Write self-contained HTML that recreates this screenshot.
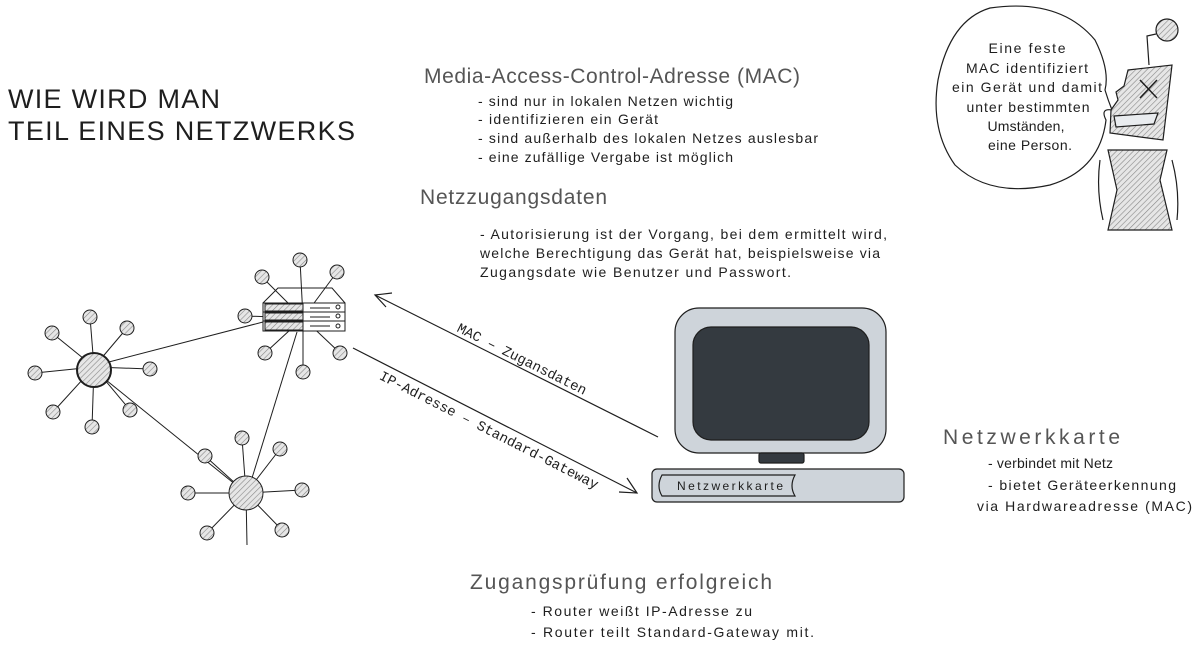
<!DOCTYPE html>
<html><head><meta charset="utf-8"><style>
html,body{margin:0;padding:0;background:#fff;}
svg{display:block}
text{font-family:"Liberation Sans",sans-serif;fill:#1e1e1e}
.h{fill:#555;font-size:21px}
.b{font-size:14px}
.m{font-family:"Liberation Mono",monospace;font-size:14px}
</style></head><body>
<svg width="1200" height="648" viewBox="0 0 1200 648" xmlns="http://www.w3.org/2000/svg">
<defs>
<pattern id="hat" width="4" height="4" patternUnits="userSpaceOnUse" patternTransform="rotate(45)">
<rect width="4" height="4" fill="#e6e6e6"/><line x1="0" y1="0" x2="0" y2="4" stroke="#888" stroke-width="1.2"/>
</pattern>
</defs>

<text x="8" y="108" font-size="27" textLength="212">WIE WIRD MAN</text>
<text x="8" y="140" font-size="27" textLength="347">TEIL EINES NETZWERKS</text>

<text class="h" x="424" y="83" textLength="376">Media-Access-Control-Adresse (MAC)</text>
<text class="b" x="478" y="106" textLength="255">- sind nur in lokalen Netzen wichtig</text>
<text class="b" x="478" y="124" textLength="180">- identifizieren ein Gerät</text>
<text class="b" x="478" y="143" textLength="340">- sind außerhalb des lokalen Netzes auslesbar</text>
<text class="b" x="478" y="162" textLength="255">- eine zufällige Vergabe ist möglich</text>

<text class="h" x="420" y="204" textLength="187">Netzzugangsdaten</text>
<text class="b" x="480" y="239" textLength="407">- Autorisierung ist der Vorgang, bei dem ermittelt wird,</text>
<text class="b" x="480" y="258" textLength="400">welche Berechtigung das Gerät hat, beispielsweise via</text>
<text class="b" x="480" y="277" textLength="311">Zugangsdate wie Benutzer und Passwort.</text>

<text class="h" x="943" y="444" textLength="177">Netzwerkkarte</text>
<text class="b" x="988" y="468" textLength="125">- verbindet mit Netz</text>
<text class="b" x="988" y="490" textLength="188">- bietet Geräteerkennung</text>
<text class="b" x="977" y="511" textLength="215">via Hardwareadresse (MAC)</text>

<text class="h" x="470" y="589" textLength="302">Zugangsprüfung erfolgreich</text>
<text class="b" x="531" y="616" textLength="221">- Router weißt IP-Adresse zu</text>
<text class="b" x="531" y="637" textLength="283">- Router teilt Standard-Gateway mit.</text>

<!-- network -->
<g stroke="#1e1e1e" stroke-width="1">
<line x1="105" y1="363" x2="263" y2="322"/>
<line x1="106" y1="380" x2="236" y2="485"/>
<line x1="297" y1="332" x2="252" y2="478"/>
<line x1="94" y1="367" x2="90" y2="317"/><line x1="94" y1="367" x2="52" y2="333"/>
<line x1="94" y1="367" x2="127" y2="328"/><line x1="94" y1="367" x2="35" y2="373"/>
<line x1="94" y1="367" x2="150" y2="369"/><line x1="94" y1="367" x2="53" y2="412"/>
<line x1="94" y1="367" x2="92" y2="427"/><line x1="94" y1="367" x2="130" y2="410"/>
<line x1="303" y1="318" x2="300" y2="260"/><line x1="303" y1="318" x2="337" y2="272"/>
<line x1="303" y1="318" x2="262" y2="277"/><line x1="303" y1="318" x2="245" y2="316"/>
<line x1="303" y1="318" x2="265" y2="353"/><line x1="303" y1="318" x2="303" y2="372"/>
<line x1="303" y1="318" x2="340" y2="353"/>
<line x1="246" y1="493" x2="242" y2="438"/><line x1="246" y1="493" x2="280" y2="449"/>
<line x1="246" y1="493" x2="205" y2="456"/><line x1="246" y1="493" x2="188" y2="493"/>
<line x1="246" y1="493" x2="302" y2="490"/><line x1="246" y1="493" x2="207" y2="533"/>
<line x1="246" y1="493" x2="282" y2="530"/><line x1="246" y1="493" x2="247" y2="545"/>
</g>
<g fill="url(#hat)" stroke="#1e1e1e" stroke-width="1">
<circle cx="90" cy="317" r="7"/><circle cx="52" cy="333" r="7"/><circle cx="127" cy="328" r="7"/>
<circle cx="35" cy="373" r="7"/><circle cx="150" cy="369" r="7"/><circle cx="53" cy="412" r="7"/>
<circle cx="92" cy="427" r="7"/><circle cx="130" cy="410" r="7"/>
<circle cx="300" cy="260" r="7"/><circle cx="337" cy="272" r="7"/><circle cx="262" cy="277" r="7"/>
<circle cx="245" cy="316" r="7"/><circle cx="265" cy="353" r="7"/><circle cx="303" cy="372" r="7"/>
<circle cx="340" cy="353" r="7"/>
<circle cx="242" cy="438" r="7"/><circle cx="280" cy="449" r="7"/><circle cx="205" cy="456" r="7"/>
<circle cx="188" cy="493" r="7"/><circle cx="302" cy="490" r="7"/><circle cx="207" cy="533" r="7"/>
<circle cx="282" cy="530" r="7"/>
<circle cx="94" cy="370" r="17" stroke-width="2"/>
<circle cx="246" cy="493" r="17"/>
</g>
<!-- server -->
<g stroke="#1e1e1e" stroke-width="1" fill="#fff">
<path d="M263 303 L278 288 L332 288 L345 303" fill="none"/>
<rect x="263" y="303" width="82" height="9"/>
<rect x="263" y="312" width="82" height="9"/>
<rect x="263" y="321" width="82" height="10"/>
<rect x="265" y="304" width="38" height="7" fill="url(#hat)"/>
<rect x="265" y="313" width="38" height="7" fill="url(#hat)"/>
<rect x="265" y="322" width="38" height="8" fill="url(#hat)"/>
<line x1="310" y1="308" x2="330" y2="308"/><line x1="310" y1="317" x2="330" y2="317"/><line x1="310" y1="326" x2="330" y2="326"/>
<circle cx="338" cy="307" r="2"/><circle cx="338" cy="316" r="2"/><circle cx="338" cy="326" r="2"/>
</g>

<!-- arrows -->
<g stroke="#1e1e1e" stroke-width="1.2" fill="none">
<line x1="658" y1="437" x2="375" y2="295"/>
<path d="M392 293 L375 295 L386 307"/>
<line x1="353" y1="348" x2="637" y2="493"/>
<path d="M619 492 L637 493 L627 478"/>
</g>
<text class="m" transform="translate(520,363) rotate(26.6)" text-anchor="middle">MAC – Zugansdaten</text>
<text class="m" transform="translate(487,434) rotate(27)" text-anchor="middle">IP-Adresse – Standard-Gateway</text>

<!-- computer -->
<g stroke="#1e1e1e" stroke-width="1.2">
<rect x="675" y="308" width="211" height="145" rx="24" fill="#ced4da"/>
<rect x="693" y="327" width="176" height="113" rx="18" fill="#343a40"/>
<rect x="759" y="453" width="45" height="10" rx="2" fill="#343a40"/>
<rect x="652" y="469" width="252" height="33" rx="5" fill="#ced4da"/>
<path d="M662 475 L795 475 Q789 486 795 496 L662 496 Q656 486 662 475Z" fill="#ced4da"/>
</g>
<text x="677" y="490" font-size="12" fill="#444" textLength="106">Netzwerkkarte</text>

<!-- speech bubble & figure -->
<path d="M990 8 Q1060 -2 1095 40 Q1110 70 1105 90 Q1108 100 1112 110 Q1100 108 1106 120 Q1100 170 1050 185 Q990 198 955 165 Q930 130 938 80 Q950 20 990 8Z" fill="#fff" stroke="#1e1e1e" stroke-width="1.2"/>
<g font-size="14" text-anchor="middle">
<text x="1027" y="53" textLength="77">Eine feste</text>
<text x="1027" y="73" textLength="122">MAC identifiziert</text>
<text x="1027" y="92" textLength="150">ein Gerät und damit</text>
<text x="1028" y="112" textLength="123">unter bestimmten</text>
<text x="1026" y="131" textLength="77">Umständen,</text>
<text x="1030" y="150" textLength="84">eine Person.</text>
</g>
<g stroke="#1e1e1e" stroke-width="1.2">
<circle cx="1167" cy="30" r="11" fill="url(#hat)"/>
<path d="M1156 34 L1147 36 L1149 65" fill="none"/>
<path d="M1128 70 L1172 65 L1163 140 L1110 133 L1111 110 L1118 100 L1116 92 L1124 86 Z" fill="url(#hat)"/>
<path d="M1114 116 L1158 113 L1154 124 L1116 127Z" fill="#e9ecef"/>
<path d="M1140 80 L1157 98 M1157 80 L1140 98" fill="none" stroke-width="1.5"/>
<path d="M1108 150 L1167 150 L1160 180 L1172 230 L1108 230 L1117 190 Z" fill="url(#hat)"/>
<path d="M1100 160 Q1096 190 1103 220 M1172 160 Q1180 190 1177 220" fill="none"/>
</g>
</svg>
</body></html>
